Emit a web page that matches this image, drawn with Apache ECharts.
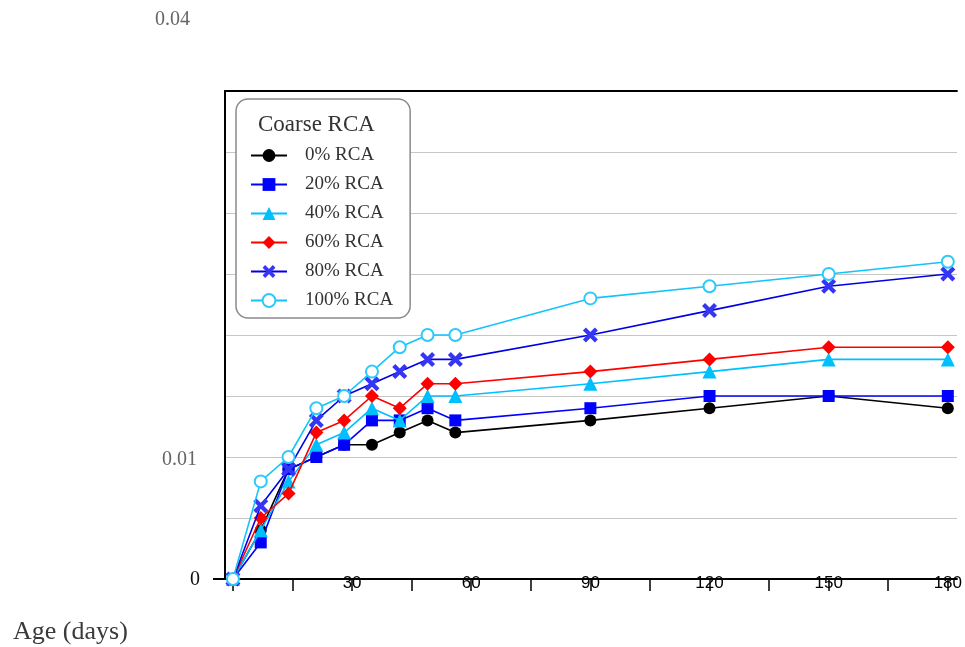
<!DOCTYPE html>
<html>
<head>
<meta charset="utf-8">
<script src="https://cdn.jsdelivr.net/npm/echarts@6/dist/echarts.min.js"></script>
<style>html,body{margin:0;padding:0;background:#fff}#c{width:965px;height:647px}</style>
</head>
<body>
<div id="c"></div>
<script>
const days = [0, 7, 14, 21, 28, 35, 42, 49, 56, 90, 120, 150, 180];
const rca0   = [0, 0.004, 0.009, 0.010, 0.011, 0.011, 0.012, 0.013, 0.012, 0.013, 0.014, 0.015, 0.014];
const rca20  = [0, 0.003, 0.009, 0.010, 0.011, 0.013, 0.013, 0.014, 0.013, 0.014, 0.015, 0.015, 0.015];
const rca40  = [0, 0.004, 0.008, 0.011, 0.012, 0.014, 0.013, 0.015, 0.015, 0.016, 0.017, 0.018, 0.018];
const rca60  = [0, 0.005, 0.007, 0.012, 0.013, 0.015, 0.014, 0.016, 0.016, 0.017, 0.018, 0.019, 0.019];
const rca80  = [0, 0.006, 0.009, 0.013, 0.015, 0.016, 0.017, 0.018, 0.018, 0.020, 0.022, 0.024, 0.025];
const rca100 = [0, 0.008, 0.010, 0.014, 0.015, 0.017, 0.019, 0.020, 0.020, 0.023, 0.024, 0.025, 0.026];
const seriesNames = ['0% RCA', '20% RCA', '40% RCA', '60% RCA', '80% RCA', '100% RCA'];
const xTickValues = [0, 15, 30, 45, 60, 75, 90, 105, 120, 135, 150, 165, 180];
const xLabelValues = [30, 60, 90, 120, 150, 180];
const yLabelValues = [0, 0.01, 0.04];
const legendTitle = 'Coarse RCA';
const xTitle = 'Age (days)';

const X_PATH = 'path://M0,4L4,0L10,6L16,0L20,4L14,10L20,16L16,20L10,14L4,20L0,16L6,10Z';
const styles = [
  {data: rca0,   color: '#000000', mcolor: '#000000', symbol: 'circle',   size: 12},
  {data: rca20,  color: '#0000ff', mcolor: '#0000ff', symbol: 'rect',     size: 12},
  {data: rca40,  color: '#00bfff', mcolor: '#00bfff', symbol: 'triangle', size: 14},
  {data: rca60,  color: '#ff0000', mcolor: '#ff0000', symbol: 'diamond',  size: 14},
  {data: rca80,  color: '#0000e6', mcolor: '#3535f5', symbol: X_PATH,     size: 15},
  {data: rca100, color: '#12c4fa', mcolor: '#2ec8fa', symbol: 'emptyCircle', size: 12}
];

const series = styles.map((s, i) => ({
  name: seriesNames[i],
  type: 'line',
  xAxisIndex: 0,
  yAxisIndex: 0,
  data: days.map((d, j) => [d, s.data[j]]),
  symbol: s.symbol,
  symbolSize: s.size,
  showAllSymbol: true,
  lineStyle: {color: s.color, width: 1.6},
  itemStyle: s.symbol === 'emptyCircle'
    ? {color: s.mcolor, borderColor: s.mcolor, borderWidth: 2.2}
    : {color: s.mcolor, borderWidth: 0},
  emphasis: {disabled: true},
  z: 2 + i
}));

const chart = echarts.init(document.getElementById('c'), null, {renderer: 'canvas'});
chart.setOption({
  animation: false,
  backgroundColor: '#ffffff',
  title: {
    text: xTitle, left: 8, top: 614,
    textStyle: {fontFamily: 'Liberation Serif', fontSize: 26, fontWeight: 'normal', color: '#3a3a3a'}
  },
  grid: {left: 225, right: 6, top: 91, bottom: 68, containLabel: false},
  xAxis: [{
    type: 'value', min: -2, max: 182.3, position: 'bottom',
    axisLine: {show: true, onZero: false, lineStyle: {color: '#000', width: 2}},
    axisTick: {show: true, customValues: xTickValues, length: 12, inside: false, lineStyle: {color: '#000', width: 1.5}},
    axisLabel: {show: true, customValues: xLabelValues, margin: -4, fontFamily: 'Liberation Sans', fontSize: 17, color: '#000'},
    splitLine: {show: false}
  }, {
    type: 'value', min: -2, max: 182.3, position: 'top',
    axisLine: {show: true, onZero: false, lineStyle: {color: '#000', width: 2}},
    axisTick: {show: false}, axisLabel: {show: false}, splitLine: {show: false}
  }],
  yAxis: [{
    type: 'value', min: 0, max: 0.04, interval: 0.005,
    axisLine: {show: true, onZero: false, lineStyle: {color: '#000', width: 2}},
    axisTick: {show: false},
    axisLabel: {
      show: true, customValues: yLabelValues, margin: 25,
      formatter: function (v) {
        if (Math.abs(v) < 1e-9) return '{z|0}';
        if (Math.abs(v - 0.01) < 1e-9) return '{a|0.01}';
        if (Math.abs(v - 0.04) < 1e-9) return '{t|0.04}';
        return '';
      },
      rich: {
        z: {fontFamily: 'Liberation Serif', fontSize: 20, color: '#111', padding: [2, 0, 0, 0]},
        a: {fontFamily: 'Liberation Serif', fontSize: 20, color: '#666', padding: [5, 3, 0, 0]},
        t: {fontFamily: 'Liberation Serif', fontSize: 20, color: '#666', padding: [0, 10, 142, 0]}
      }
    },
    splitLine: {show: true, lineStyle: {color: '#c6c6c6', width: 1.2}}
  }, {
    type: 'value', min: 0, max: 0.04, position: 'left',
    axisLine: {show: false, onZero: false},
    axisTick: {show: true, customValues: [0], length: 12, lineStyle: {color: '#000', width: 2}},
    axisLabel: {show: false}, splitLine: {show: false}
  }],
  legend: {
    data: seriesNames,
    orient: 'vertical',
    left: 236, top: 99,
    padding: [47, 17, 8, 14],
    itemWidth: 36, itemHeight: 16, itemGap: 10,
    backgroundColor: '#ffffff',
    borderColor: '#8a8a8a', borderWidth: 1.5, borderRadius: 12,
    textStyle: {fontFamily: 'Liberation Serif', fontSize: 19, color: '#333', padding: [0, 0, 0, 13]},
    selectedMode: false
  },
  graphic: [{
    type: 'text', left: 258, top: 113, z: 100,
    style: {text: legendTitle, font: '23px "Liberation Serif"', fill: '#333'}
  }],
  series: series
});
</script>
</body>
</html>
